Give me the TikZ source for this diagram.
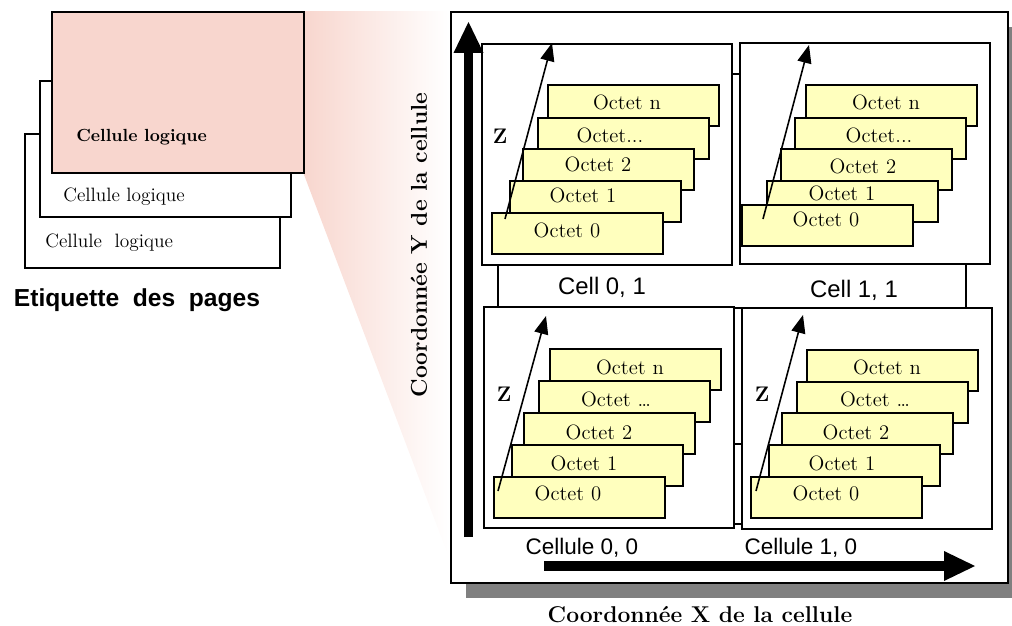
\documentclass[tikz,border=0pt]{standalone}
\usepackage{fontspec}
\newfontfamily\arialfont{Liberation Sans}
\usetikzlibrary{positioning}
\usetikzlibrary{arrows.meta, shadows}
\definecolor{pagepink}{RGB}{248,214,206}
\definecolor{octetyellow}{RGB}{255,255,190}

\begin{document}
\begin{tikzpicture}[x=0.02cm, y=-0.02cm,
    pagebox/.style={draw, line width=1.1pt, anchor=north west, inner sep=0pt},
    cellbox/.style={draw, fill=white, line width=1.2pt, anchor=north west, minimum width=5cm, minimum height=4.42cm, inner sep=0pt},
    octet/.style={draw, fill=octetyellow, line width=1.2pt, anchor=north west, minimum width=3.42cm, minimum height=0.82cm, inner sep=0pt},
    octlabel/.style={inner sep=0pt, font=\fontsize{11.8}{14}\selectfont},
    zlabel/.style={inner sep=0pt, font=\fontsize{12}{14}\selectfont\bfseries},
    celllabel/.style={inner sep=0pt, font=\arialfont\fontsize{13.6}{16}\selectfont},
    axistitle/.style={inner sep=0pt, font=\fontsize{13}{15}\selectfont\bfseries},
    zaxis/.style={line width=0.9pt, -{Triangle[length=0.36cm,width=0.28cm]}},
    bigaxis/.style={line width=0.19cm, -{Triangle[length=0.62cm,width=0.6cm,line width=0pt]}}]
  \useasboundingbox (0,0) rectangle (1012,626);
  \shade[left color=pagepink, right color=white] (303,11) -- (448,11) -- (448,555) -- (303,172) -- cycle;
  \node[pagebox, fill=white, minimum width=5.1cm, minimum height=2.68cm] (page3) at (24,133) {};
  \node[pagebox, fill=white, minimum width=5.02cm, minimum height=2.72cm] (page2) at (39,80) {};
  \node[pagebox, fill=pagepink, minimum width=5.04cm, minimum height=3.22cm] (page1) at (51,11) {};
  \node[anchor=west, inner sep=0pt, font=\fontsize{10}{12}\selectfont\bfseries] (page1txt) at (76,137) {Cellule logique};
  \node[anchor=west, inner sep=0pt, font=\fontsize{11}{13}\selectfont] (page2txt) at (63,197) {Cellule logique};
  \node[anchor=west, inner sep=0pt, font=\fontsize{11}{13}\selectfont] (page3txt) at (45,243) {Cellule\ \ logique};
  \node[inner sep=0pt, font=\arialfont\fontsize{14}{16}\selectfont\bfseries] (pagestitle) at (137,300) {Etiquette\ \ des\ \ pages};

  \node[draw, fill=white, line width=1.2pt, anchor=north west, inner sep=0pt, minimum width=11.14cm, minimum height=11.42cm,
        drop shadow={shadow xshift=0.3cm, shadow yshift=-0.3cm, fill=gray, opacity=1}] (frame) at (450,11) {};
  \node[draw, fill=white, line width=1.2pt, anchor=north west, inner sep=0pt, minimum width=9.36cm, minimum height=4.68cm] (row1) at (497,73) {};
  \node[draw, fill=white, line width=1.2pt, anchor=north west, inner sep=0pt, minimum width=5.6cm, minimum height=1.6cm] (row0) at (600,443) {};
  \node[cellbox] (cell01) at (481,43) {};
  \node[cellbox] (cell11) at (739,42) {};
  \node[cellbox] (cell00) at (483,306) {};
  \node[cellbox] (cell10) at (741,307) {};

  \foreach \nm/\bx/\by/\tx/\ty/\txt in {
      c01o4/547/84/627/102/{Octet n}, c01o3/537/117/610/135/{Octet...}, c01o2/522/148/598/164/{Octet 2},
      c01o1/509/180/583/195/{Octet 1}, c01o0/491/212/567/230/{Octet 0},
      c11o4/805/84/886/102/{Octet n}, c11o3/794/117/879/135/{Octet...}, c11o2/780/148/863/166/{Octet 2},
      c11o1/766/180/842/193/{Octet 1}, c11o0/741/204/826/219/{Octet 0},
      c00o4/549/348/630/367/{Octet n}, c00o3/538/380/616/399/{Octet \ldots}, c00o2/523/412/599/432/{Octet 2},
      c00o1/511/444/584/463/{Octet 1}, c00o0/493/476/568/493/{Octet 0},
      c10o4/806/349/887/367/{Octet n}, c10o3/796/381/875/399/{Octet \ldots}, c10o2/781/412/856/432/{Octet 2},
      c10o1/768/444/842/463/{Octet 1}, c10o0/750/476/826/493/{Octet 0}}
  {
    \node[octet] (\nm) at (\bx,\by) {};
    \node[octlabel] (\nm-t) at (\tx,\ty) {\txt};
  }

  \coordinate (z01a) at (505,219); \coordinate (z01b) at (552,43);
  \coordinate (z11a) at (763,219); \coordinate (z11b) at (809,45);
  \coordinate (z00a) at (498,491); \coordinate (z00b) at (546,316);
  \coordinate (z10a) at (756,491); \coordinate (z10b) at (803,315);
  \draw[zaxis] (z01a) -- (z01b);
  \draw[zaxis] (z11a) -- (z11b);
  \draw[zaxis] (z00a) -- (z00b);
  \draw[zaxis] (z10a) -- (z10b);
  \node[zlabel] (z01) at (500,136) {Z};
  \node[zlabel] (z00) at (504,394) {Z};
  \node[zlabel] (z10) at (762,394) {Z};

  \node[celllabel] (lbl01) at (602,287) {Cell 0, 1};
  \node[celllabel] (lbl11) at (854,290) {Cell 1, 1};
  \node[celllabel, font=\arialfont\fontsize{12.8}{15}\selectfont] (lbl00) at (582,548) {Cellule 0, 0};
  \node[celllabel, font=\arialfont\fontsize{12.8}{15}\selectfont] (lbl10) at (801,548) {Cellule 1, 0};

  \coordinate (yfrom) at (468.5,537); \coordinate (yto) at (468.5,22);
  \coordinate (xfrom) at (544,566); \coordinate (xto) at (975,566);
  \draw[bigaxis] (yfrom) -- (yto);
  \draw[bigaxis] (xfrom) -- (xto);
  \node[axistitle, rotate=90] (ytitle) at (419,245) {Coordonnée Y de la cellule};
  \node[axistitle] (xtitle) at (700,615) {Coordonnée X de la cellule};
\end{tikzpicture}
\end{document}
